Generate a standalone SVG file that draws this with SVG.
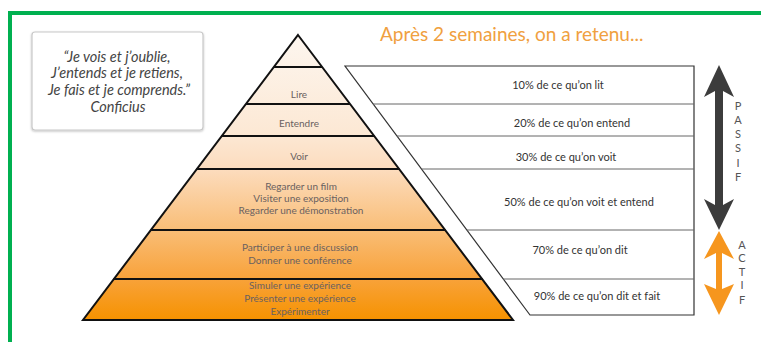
<svg xmlns="http://www.w3.org/2000/svg" width="761" height="342" viewBox="0 0 761 342">
<defs>
<linearGradient id="pyr" gradientUnits="userSpaceOnUse" x1="0" y1="35" x2="0" y2="320">
<stop offset="0" stop-color="#fdf6ef"/>
<stop offset="0.35" stop-color="#fce8d4"/>
<stop offset="0.47" stop-color="#fcdcbe"/>
<stop offset="0.68" stop-color="#f9be78"/>
<stop offset="0.85" stop-color="#f8a33c"/>
<stop offset="1" stop-color="#f69200"/>
</linearGradient>
<filter id="sh" x="-10%" y="-10%" width="120%" height="125%">
<feDropShadow dx="0" dy="1" stdDeviation="1.2" flood-color="#000" flood-opacity="0.25"/>
</filter>
</defs>
<style>
.band{font-family:Lato,"Open Sans","Liberation Sans",sans-serif;font-size:10px;fill:#6a6160;text-anchor:middle}
.row{font-family:Lato,"Open Sans","Liberation Sans",sans-serif;font-size:11px;fill:#333;text-anchor:middle}
.quote{font-family:Lato,"Open Sans","Liberation Sans",sans-serif;font-style:italic;font-size:14.5px;fill:#444;text-anchor:middle}
.side{font-family:Lato,"Open Sans","Liberation Sans",sans-serif;font-size:11px;fill:#555;text-anchor:middle}
.sep{stroke:#111;stroke-width:2}
.rl{stroke:#666;stroke-width:1}
</style>
<rect width="761" height="342" fill="#fff"/>
<path d="M10 342 V13 H761" fill="none" stroke="#00b050" stroke-width="4"/>

<g id="quote">
<rect x="32" y="32" width="171" height="98" rx="3" fill="#fff" stroke="#c8c8c8" stroke-width="1.2" filter="url(#sh)"/>
<text class="quote" x="117" y="62">“Je vois et j’oublie,</text>
<text class="quote" x="117" y="78">J’entends et je retiens,</text>
<text class="quote" x="119" y="95">Je fais et je comprends.”</text>
<text class="quote" x="118" y="112">Conficius</text>
</g>

<g id="title">
<text x="380" y="41" font-family="Lato,'Open Sans','Liberation Sans',sans-serif" font-size="19" fill="#f0a040">Après 2 semaines, on a retenu...</text>
</g>

<g id="pyramid">
<polygon points="298,35 513,320 83,320" fill="url(#pyr)" stroke="#111" stroke-width="2" stroke-linejoin="miter"/>
<g id="band-lire">
<line class="sep" x1="274" y1="67" x2="322" y2="67"/>
<text class="band" x="299" y="98">Lire</text>
</g>
<g id="band-entendre">
<line class="sep" x1="246" y1="104" x2="350" y2="104"/>
<text class="band" x="299" y="127">Entendre</text>
</g>
<g id="band-voir">
<line class="sep" x1="221.5" y1="136" x2="374.5" y2="136"/>
<text class="band" x="299" y="160">Voir</text>
</g>
<g id="band-regarder">
<line class="sep" x1="196.5" y1="169" x2="399.5" y2="169"/>
<text class="band" x="301" y="190">Regarder un film</text>
<text class="band" x="301" y="202">Visiter une exposition</text>
<text class="band" x="301" y="214">Regarder une démonstration</text>
</g>
<g id="band-participer">
<line class="sep" x1="150.5" y1="230" x2="445.5" y2="230"/>
<text class="band" x="300" y="251">Participer à une discussion</text>
<text class="band" x="300" y="264">Donner une conférence</text>
</g>
<g id="band-simuler">
<line class="sep" x1="113.5" y1="279" x2="482.5" y2="279"/>
<text class="band" x="300" y="289">Simuler une expérience</text>
<text class="band" x="300" y="302">Présenter une expérience</text>
<text class="band" x="300" y="315">Expérimenter</text>
</g>
</g>

<g id="table">
<polygon points="345,66 694,66 694,315 530,315" fill="#fff" stroke="#333" stroke-width="1.2"/>
<g id="row-10">
<text class="row" x="558" y="89">10% de ce qu’on lit</text>
</g>
<g id="row-20">
<line class="rl" x1="373" y1="104" x2="694" y2="104"/>
<text class="row" x="572" y="127">20% de ce qu’on entend</text>
</g>
<g id="row-30">
<line class="rl" x1="397" y1="136" x2="694" y2="136"/>
<text class="row" x="566" y="161">30% de ce qu’on voit</text>
</g>
<g id="row-50">
<line class="rl" x1="421.5" y1="169" x2="694" y2="169"/>
<text class="row" x="579" y="206">50% de ce qu’on voit et entend</text>
</g>
<g id="row-70">
<line class="rl" x1="467" y1="230" x2="694" y2="230"/>
<text class="row" x="580" y="254">70% de ce qu’on dit</text>
</g>
<g id="row-90">
<line class="rl" x1="503" y1="279" x2="694" y2="279"/>
<text class="row" x="597" y="300">90% de ce qu’on dit et fait</text>
</g>
</g>

<g id="connectors">
<polygon id="arrow-passif" fill="#3c3c3c" points="719,65 734,97 723,91 723,205 734,199 719,230 704,199 715,205 715,91 704,97"/>
<polygon id="arrow-actif" fill="#f6961e" points="719,231 734,259 722,253 722,289 734,284 719,315 704,284 716,289 716,253 704,259"/>
</g>

<g id="label-passif">
<text class="side" x="738" y="110">P</text>
<text class="side" x="738" y="124">A</text>
<text class="side" x="738" y="138">S</text>
<text class="side" x="738" y="152">S</text>
<text class="side" x="738" y="167">I</text>
<text class="side" x="738" y="181">F</text>
</g>
<g id="label-actif">
<text class="side" x="742" y="249">A</text>
<text class="side" x="742" y="262">C</text>
<text class="side" x="742" y="276">T</text>
<text class="side" x="742" y="289">I</text>
<text class="side" x="742" y="304">F</text>
</g>
</svg>
